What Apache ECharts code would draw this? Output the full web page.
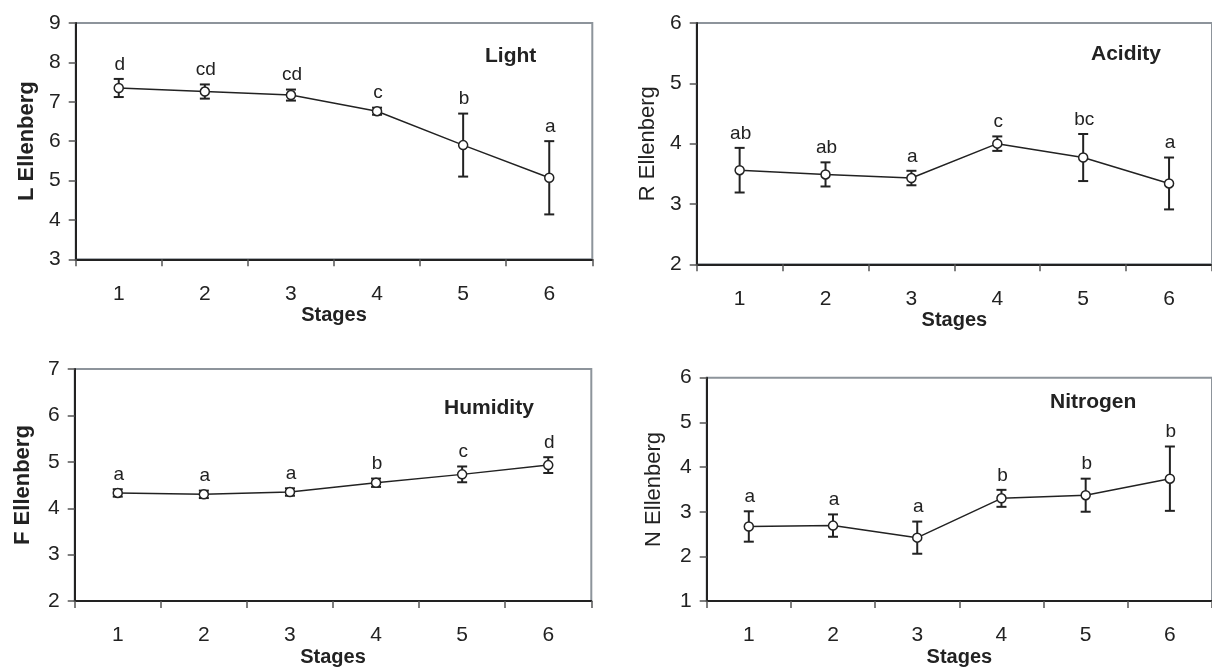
<!DOCTYPE html>
<html>
<head>
<meta charset="utf-8">
<script src="https://cdn.jsdelivr.net/npm/echarts@6/dist/echarts.min.js"></script>
<style>
  html, body { margin: 0; padding: 0; background: #fff; }
  #box1 { width: 1212px; height: 668px; }
</style>
</head>
<body>
<div id="box1"></div>
<script>
var stages = ['1', '2', '3', '4', '5', '6'];

// Light (L Ellenberg)
var lightMean = [7.35, 7.26, 7.17, 6.76, 5.90, 5.07];
var lightErr = [0.23, 0.18, 0.14, 0.09, 0.80, 0.93];
var lightLetters = ['d', 'cd', 'cd', 'c', 'b', 'a'];

// Acidity (R Ellenberg)
var acidMean = [3.56, 3.49, 3.43, 4.00, 3.77, 3.34];
var acidErr = [0.37, 0.20, 0.12, 0.12, 0.39, 0.43];
var acidLetters = ['ab', 'ab', 'a', 'c', 'bc', 'a'];

// Humidity (F Ellenberg)
var humMean = [4.33, 4.30, 4.35, 4.55, 4.73, 4.93];
var humErr = [0.08, 0.08, 0.08, 0.09, 0.17, 0.17];
var humLetters = ['a', 'a', 'a', 'b', 'c', 'd'];

// Nitrogen (N Ellenberg)
var nitMean = [2.67, 2.69, 2.42, 3.30, 3.37, 3.74];
var nitErr = [0.34, 0.25, 0.36, 0.19, 0.37, 0.72];
var nitLetters = ['a', 'a', 'a', 'b', 'b', 'b'];

var FONT = 'Liberation Sans, Arial, sans-serif';
var INK = '#222';

var panels = [
    { mean: lightMean, err: lightErr, letters: lightLetters, title: 'Light', yName: 'L Ellenberg', bold: true,
      min: 3, max: 9, grid: { left: 75.7, top: 23, width: 516.6, height: 236.3 },
      titlePos: { left: 485, top: 46 }, nameGap: 38, stagesGap: 38 },
    { mean: acidMean, err: acidErr, letters: acidLetters, title: 'Acidity', yName: 'R Ellenberg', bold: false,
      min: 2, max: 6, grid: { left: 696.7, top: 23, width: 523, height: 241.3 },
      titlePos: { left: 1091, top: 44 }, nameGap: 38, stagesGap: 32 },
    { mean: humMean, err: humErr, letters: humLetters, title: 'Humidity', yName: 'F Ellenberg', bold: true,
      min: 2, max: 7, grid: { left: 74.7, top: 369, width: 516.6, height: 238.3 },
      titlePos: { left: 444, top: 398 }, nameGap: 41, stagesGap: 38 },
    { mean: nitMean, err: nitErr, letters: nitLetters, title: 'Nitrogen', yName: 'N Ellenberg', bold: false,
      min: 1, max: 6, grid: { left: 706.7, top: 377.7, width: 516, height: 238 },
      titlePos: { left: 1050, top: 392 }, nameGap: 42, stagesGap: 32 }
];

function errorBars(letters) {
    return function (params, api) {
        var x = api.value(0);
        var top = api.coord([x, api.value(2)]);
        var bot = api.coord([x, api.value(1)]);
        var cap = 5;
        var ls = { stroke: INK, lineWidth: 2 };
        return {
            type: 'group',
            children: [
                { type: 'line', shape: { x1: top[0], y1: top[1], x2: bot[0], y2: bot[1] }, style: ls },
                { type: 'line', shape: { x1: top[0] - cap, y1: top[1], x2: top[0] + cap, y2: top[1] }, style: ls },
                { type: 'line', shape: { x1: bot[0] - cap, y1: bot[1], x2: bot[0] + cap, y2: bot[1] }, style: ls },
                { type: 'text', x: top[0] + 1, y: top[1] - 5,
                  style: { text: letters[params.dataIndex], fill: INK, font: '19px ' + FONT,
                           align: 'center', verticalAlign: 'bottom' } }
            ]
        };
    };
}

var option = { backgroundColor: '#fff', animation: false, title: [], grid: [], xAxis: [], yAxis: [], series: [] };

panels.forEach(function (p, k) {
    option.title.push({
        text: p.title, left: p.titlePos.left, top: p.titlePos.top, padding: 0,
        textStyle: { fontSize: 21, fontWeight: 'bold', color: INK, fontFamily: FONT }
    });
    option.grid.push({
        left: p.grid.left, top: p.grid.top, width: p.grid.width, height: p.grid.height,
        show: true, borderColor: '#8d949b', borderWidth: 2, backgroundColor: 'transparent'
    });
    option.xAxis.push({
        type: 'category', gridIndex: k, data: stages, boundaryGap: true,
        name: 'Stages', nameLocation: 'middle', nameGap: p.stagesGap,
        nameTextStyle: { fontSize: 20, fontWeight: 'bold', color: INK, fontFamily: FONT },
        axisLine: { lineStyle: { color: INK, width: 2 } },
        axisTick: { show: true, inside: false, length: 7, interval: 0, lineStyle: { color: '#555', width: 1.5 } },
        axisLabel: { margin: 24, fontSize: 21, color: INK, fontFamily: FONT, interval: 0 },
        splitLine: { show: false }
    });
    option.yAxis.push({
        type: 'value', gridIndex: k, min: p.min, max: p.max, interval: 1,
        name: p.yName, nameLocation: 'middle', nameGap: p.nameGap,
        nameTextStyle: { fontSize: 22, fontWeight: p.bold ? 'bold' : 'normal', color: INK, fontFamily: FONT },
        axisLine: { show: true, lineStyle: { color: INK, width: 2 } },
        axisTick: { show: true, inside: false, length: 7, lineStyle: { color: '#555', width: 1.5 } },
        axisLabel: { margin: 15, fontSize: 21, color: INK, fontFamily: FONT },
        splitLine: { show: false }
    });
    option.series.push({
        type: 'custom', xAxisIndex: k, yAxisIndex: k, z: 2,
        renderItem: errorBars(p.letters),
        encode: { x: 0, y: [1, 2] },
        data: p.mean.map(function (m, i) { return [i, m - p.err[i], m + p.err[i]]; })
    });
    option.series.push({
        type: 'line', xAxisIndex: k, yAxisIndex: k, z: 3,
        data: p.mean, symbol: 'circle', symbolSize: 9, showSymbol: true,
        lineStyle: { color: INK, width: 1.5 },
        itemStyle: { color: '#fff', borderColor: INK, borderWidth: 1.5 }
    });
});

var myChart = echarts.init(document.getElementById('box1'));
myChart.setOption(option);
</script>
</body>
</html>
